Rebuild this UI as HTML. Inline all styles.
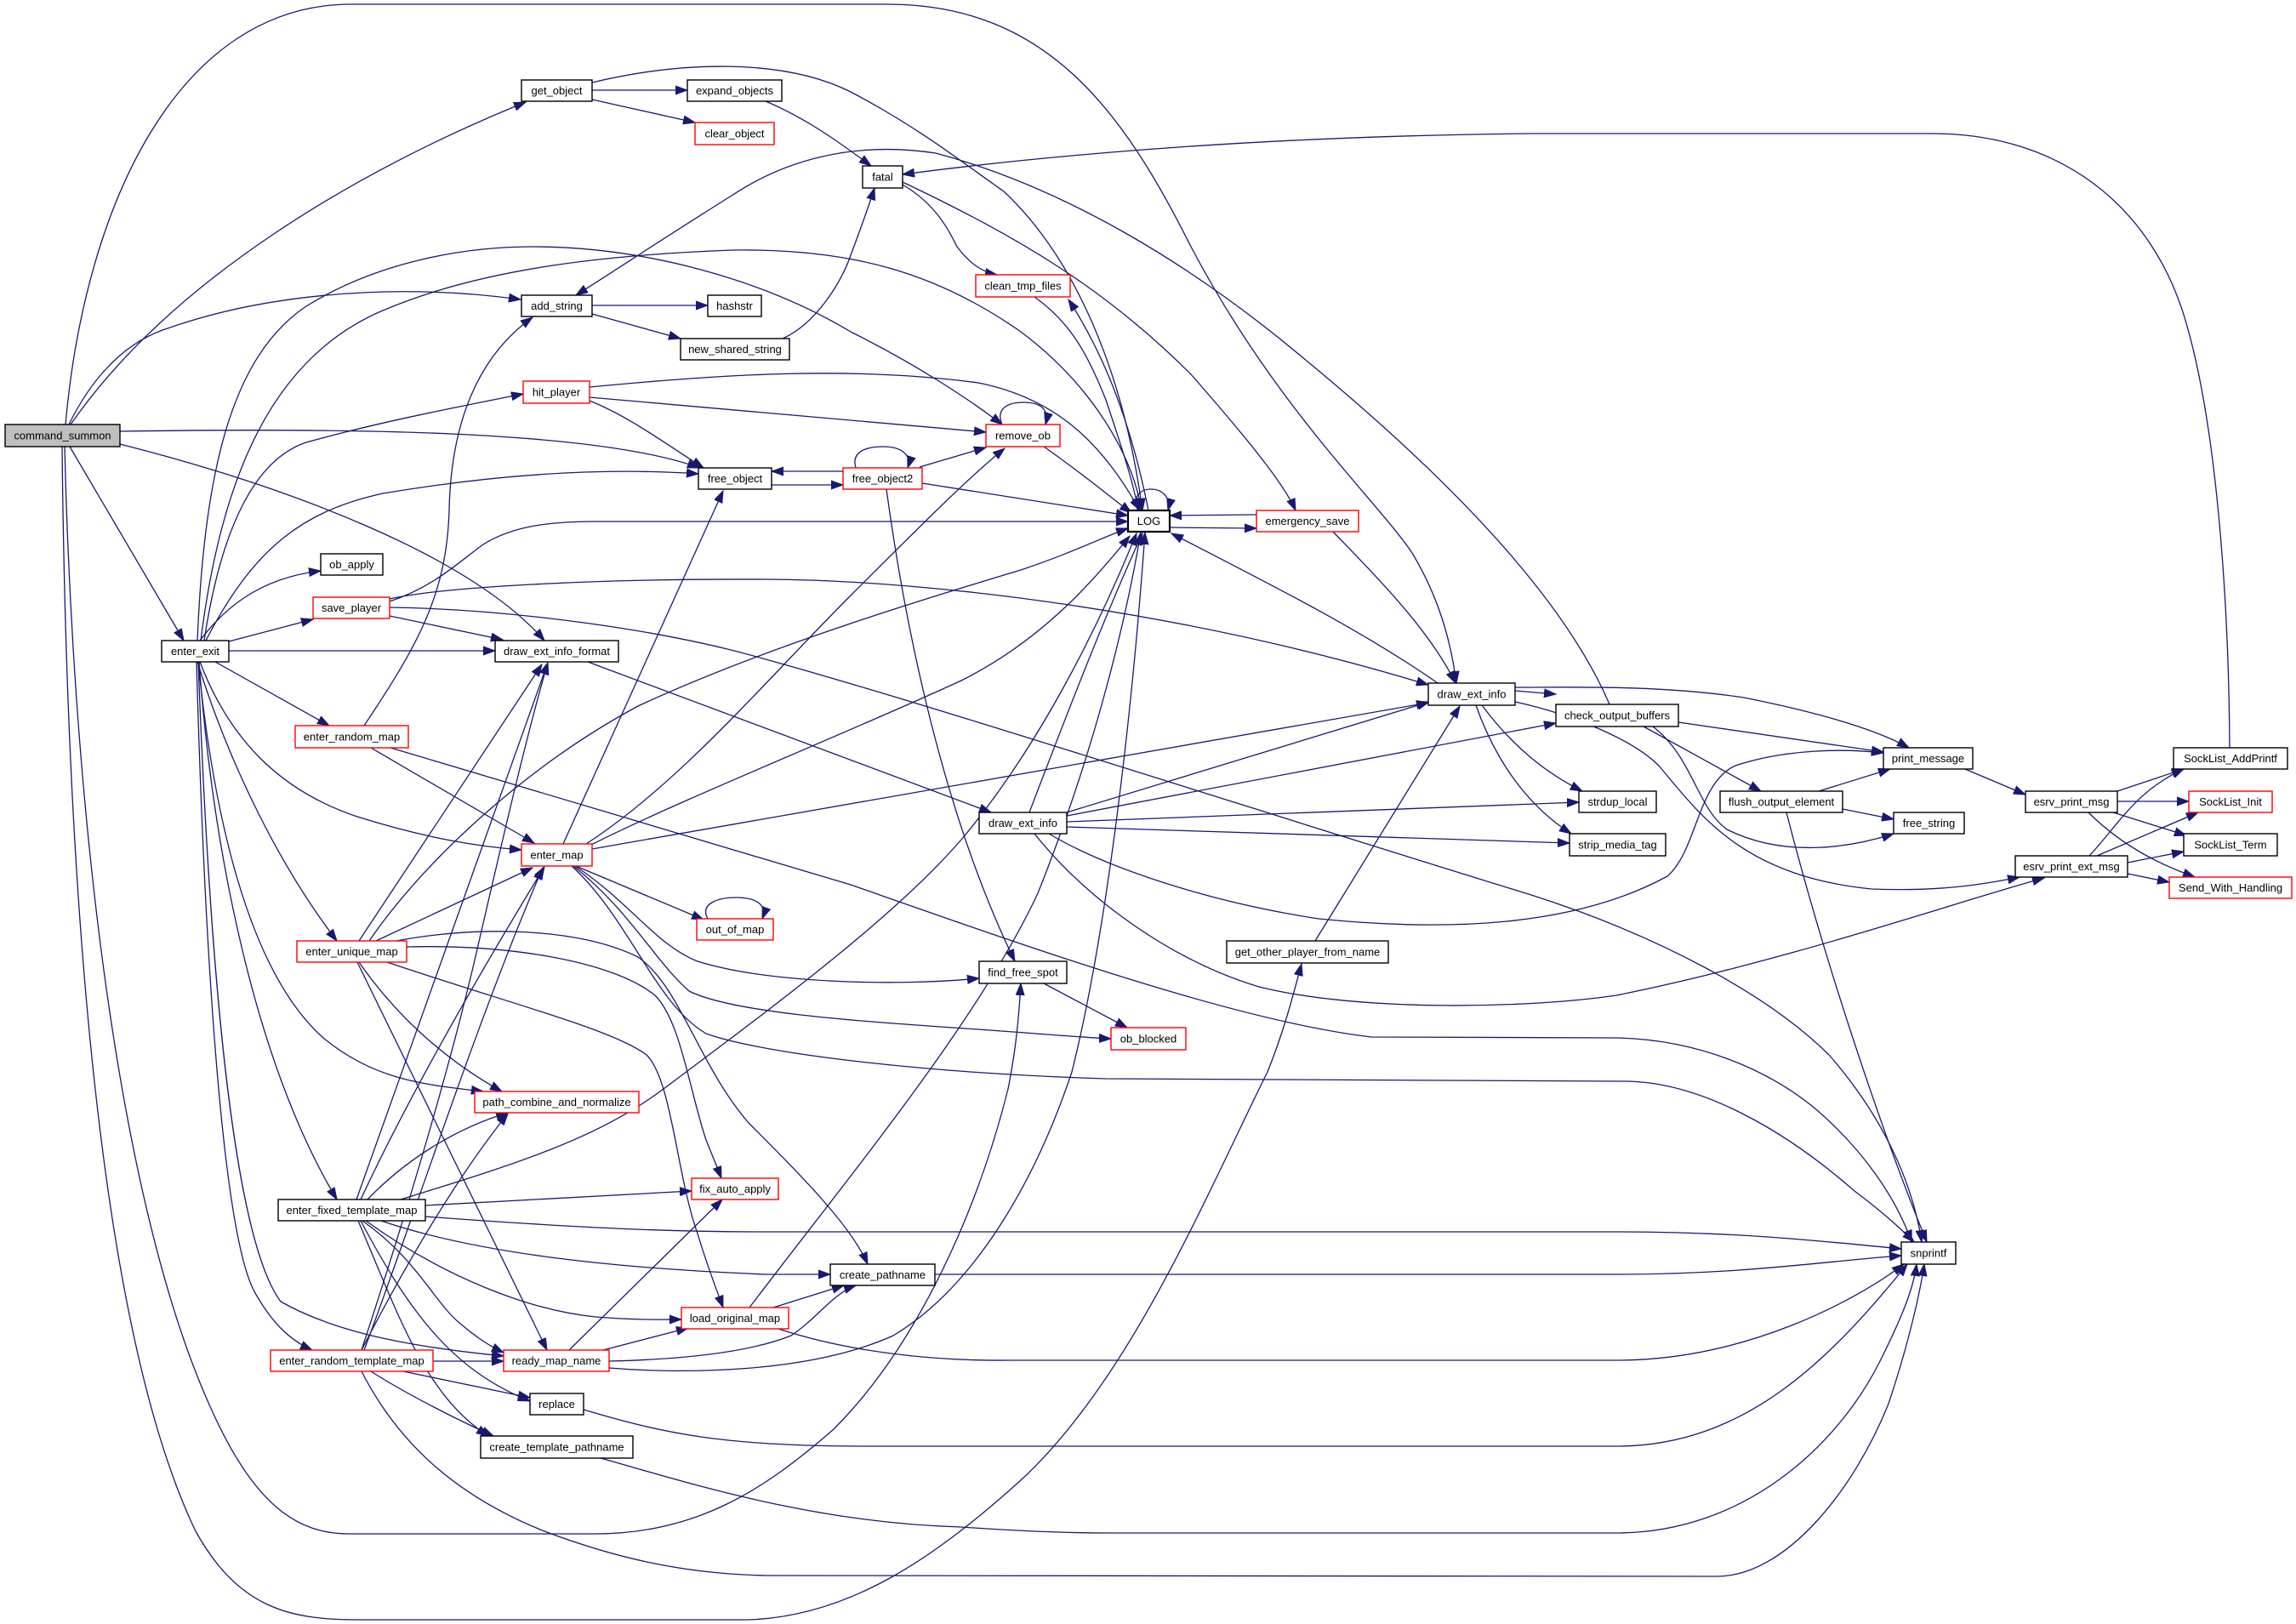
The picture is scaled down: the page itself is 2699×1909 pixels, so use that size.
<!DOCTYPE html>
<html><head><meta charset="utf-8"><style>
html,body{margin:0;padding:0;background:#fff;}
svg{display:block;}
.e{fill:none;stroke:#191970;stroke-width:1.3;marker-end:url(#a);}
.n{fill:#fff;stroke:#000;stroke-width:1.4;}
.r{fill:#fff;stroke:#ff0000;stroke-width:1.4;}
text{font-family:"Liberation Sans",Arial,sans-serif;font-size:13px;fill:#000;text-anchor:middle;}
</style></head><body>
<svg width="2699" height="1909" viewBox="0 0 2699 1909" xmlns="http://www.w3.org/2000/svg">
<defs><marker id="a" markerWidth="15" markerHeight="11" refX="14" refY="5.5" orient="auto" markerUnits="userSpaceOnUse"><path d="M0,0.5 L14,5.5 L0,10.5 z" fill="#191970" stroke="#191970" stroke-width="1"/></marker></defs>

<!-- edges from command_summon -->
<path class="e" d="M83,499 C 200,330 420,200 618,120"/>
<path class="e" d="M77,499 C 100,240 210,5 413,5 L1043,5 C 1230,5 1320,130 1400,290 C 1500,480 1620,590 1660,650 C 1690,700 1705,750 1712,803"/>
<path class="e" d="M81,499 C 110,440 150,400 200,385 C 300,350 450,330 612,352"/>
<path class="e" d="M141,507 C 400,503 700,505 822,550"/>
<path class="e" d="M141,522 C 330,570 550,650 640,753"/>
<path class="e" d="M82,525 L216,753"/>
<path class="e" d="M76,525 C 85,900 130,1400 250,1660 C 300,1770 350,1803 410,1803 L700,1803 C 820,1803 900,1750 980,1680 C 1080,1580 1150,1420 1185,1280 C 1195,1230 1198,1190 1200,1156"/>
<path class="e" d="M73,525 C 78,1000 110,1550 230,1800 C 280,1890 340,1904 420,1904 L880,1904 C 1000,1900 1100,1830 1200,1740 C 1330,1620 1420,1400 1490,1260 C 1510,1210 1520,1170 1530,1133"/>

<!-- enter_exit -->
<path class="e" d="M232,753 C 240,560 270,420 360,360 C 440,310 540,290 626,290 C 760,290 900,330 1000,390 C 1080,430 1140,470 1178,499"/>
<path class="e" d="M236,753 C 260,560 320,420 450,365 C 560,318 700,300 861,294 C 1000,292 1100,320 1200,390 C 1280,450 1330,530 1342,600"/>
<path class="e" d="M240,753 C 260,620 300,540 360,520 C 450,495 540,478 615,463"/>
<path class="e" d="M242,753 C 300,640 360,600 450,580 C 600,555 720,550 821,557"/>
<path class="e" d="M235,753 C 260,720 300,680 377,671"/>
<path class="e" d="M269,754 L368,728"/>
<path class="e" d="M269,765 L582,765"/>
<path class="e" d="M253,778 L387,853"/>
<path class="e" d="M235,778 C 270,870 330,930 420,960 C 500,985 560,995 613,999"/>
<path class="e" d="M232,778 C 270,900 330,1020 396,1106"/>
<path class="e" d="M233,778 C 250,950 290,1140 380,1220 C 440,1270 500,1275 568,1283"/>
<path class="e" d="M234,778 C 250,1000 300,1250 396,1410"/>
<path class="e" d="M231,778 C 240,1100 260,1450 300,1520 C 320,1555 340,1575 367,1587"/>
<path class="e" d="M233,778 C 245,1100 270,1450 330,1530 C 400,1570 500,1585 592,1594"/>

<!-- enter_random_map -->
<path class="e" d="M428,853 C 490,760 525,700 528,600 C 530,500 560,420 626,373"/>
<path class="e" d="M436,879 L628,991"/>
<path class="e" d="M459,879 L1000,1040 C 1200,1110 1450,1200 1612,1219 L1900,1220 C 2000,1222 2080,1260 2130,1300 C 2190,1350 2230,1410 2247,1460"/>

<!-- save_player -->
<path class="e" d="M458,707 C 510,690 540,660 568,640 C 600,620 640,613 700,613 L1326,613"/>
<path class="e" d="M458,724 L591,752"/>
<path class="e" d="M458,704 C 520,690 700,680 900,681 C 1100,682 1400,720 1679,805"/>
<path class="e" d="M458,714 C 600,716 780,740 900,775 C 1100,830 1500,960 1800,1052 C 1950,1100 2080,1170 2150,1240 C 2220,1320 2250,1400 2259,1460"/>

<!-- draw_ext_info_format -->
<path class="e" d="M691,778 L1165,955"/>

<!-- enter_map -->
<path class="e" d="M662,992 L850,577"/>
<path class="e" d="M689,992 C 800,920 900,800 1000,700 C 1080,620 1140,560 1181,527"/>
<path class="e" d="M695,993 C 800,940 1000,860 1130,800 C 1220,755 1280,690 1328,630"/>
<path class="e" d="M696,998 L1679,826"/>
<path class="e" d="M677,1018 L827,1081"/>
<path class="e" d="M832,1080 C 822,1062 845,1055 865,1055 C 890,1055 902,1064 896,1080"/>
<path class="e" d="M676,1018 C 740,1060 770,1110 820,1130 C 900,1155 1050,1160 1151,1150"/>
<path class="e" d="M674,1018 C 740,1070 770,1130 810,1165 C 860,1190 1000,1200 1150,1210 C 1220,1215 1280,1220 1306,1221"/>
<path class="e" d="M672,1018 C 740,1080 770,1180 830,1215 C 900,1240 1100,1262 1300,1268 L1909,1271 C 2000,1271 2100,1330 2180,1400 C 2220,1430 2240,1450 2250,1460"/>

<!-- enter_unique_map -->
<path class="e" d="M422,1106 L637,781"/>
<path class="e" d="M434,1106 C 500,1010 620,900 750,830 C 900,760 1100,700 1200,670 C 1260,650 1300,630 1326,621"/>
<path class="e" d="M442,1106 L626,1020"/>
<path class="e" d="M466,1106 C 560,1088 680,1090 750,1125 C 800,1160 820,1250 880,1320 C 940,1380 1000,1440 1020,1486"/>
<path class="e" d="M478,1113 C 600,1110 720,1130 770,1170 C 800,1200 810,1280 830,1340 C 838,1360 843,1372 848,1385"/>
<path class="e" d="M455,1131 C 600,1180 720,1210 760,1240 C 790,1270 795,1380 820,1450 C 832,1490 842,1515 850,1537"/>
<path class="e" d="M422,1131 C 470,1200 530,1250 590,1283"/>
<path class="e" d="M420,1131 L643,1587"/>

<!-- enter_fixed_template_map -->
<path class="e" d="M419,1410 L644,779"/>
<path class="e" d="M424,1410 C 480,1290 560,1150 640,1019"/>
<path class="e" d="M432,1410 C 480,1360 540,1325 597,1308"/>
<path class="e" d="M471,1410 C 600,1370 700,1340 780,1280 C 900,1190 1050,1080 1130,987 C 1220,880 1290,740 1336,627"/>
<path class="e" d="M500,1417 L813,1400"/>
<path class="e" d="M500,1430 C 700,1445 800,1448 900,1448 L1900,1448 C 2050,1448 2150,1460 2235,1468"/>
<path class="e" d="M448,1435 C 550,1470 700,1490 900,1498 L976,1498"/>
<path class="e" d="M430,1435 C 520,1500 620,1540 700,1548 C 750,1552 780,1551 801,1551"/>
<path class="e" d="M426,1435 C 490,1480 510,1530 540,1555 C 560,1572 575,1582 592,1590"/>
<path class="e" d="M424,1435 C 480,1540 530,1610 623,1647"/>
<path class="e" d="M421,1435 C 470,1550 500,1640 574,1688"/>

<!-- enter_random_template_map -->
<path class="e" d="M425,1587 C 480,1420 530,1250 560,1120 C 590,990 620,860 644,779"/>
<path class="e" d="M428,1587 C 480,1450 560,1200 638,1020"/>
<path class="e" d="M425,1587 C 480,1480 540,1380 597,1309"/>
<path class="e" d="M509,1600 L592,1600"/>
<path class="e" d="M474,1612 L623,1643"/>
<path class="e" d="M436,1612 C 480,1640 540,1670 580,1688"/>
<path class="e" d="M425,1612 C 470,1700 540,1760 640,1800 C 720,1830 800,1850 900,1852 L2018,1853 C 2100,1853 2180,1750 2220,1650 C 2250,1560 2260,1500 2262,1486"/>

<!-- ready_map_name -->
<path class="e" d="M669,1587 L849,1410"/>
<path class="e" d="M709,1587 L809,1561"/>
<path class="e" d="M716,1600 C 800,1598 880,1590 930,1570 C 960,1550 980,1520 1006,1511"/>
<path class="e" d="M716,1608 C 800,1615 950,1615 1050,1570 C 1150,1510 1220,1380 1260,1260 C 1300,1100 1330,850 1346,626"/>

<!-- load_original_map -->
<path class="e" d="M881,1537 C 1000,1380 1150,1200 1220,1050 C 1280,900 1320,750 1341,626"/>
<path class="e" d="M909,1537 L992,1511"/>
<path class="e" d="M915,1562 C 1000,1590 1100,1600 1187,1599 L1900,1599 C 2050,1599 2180,1530 2238,1486"/>

<!-- replace, create_template_pathname, create_pathname -->
<path class="e" d="M686,1657 C 780,1685 850,1700 1015,1700 L1900,1700 C 2050,1700 2150,1600 2242,1486"/>
<path class="e" d="M706,1714 C 800,1740 950,1790 1130,1795 C 1200,1800 1250,1802 1302,1802 L1900,1802 C 2050,1802 2160,1700 2210,1600 C 2240,1540 2250,1510 2253,1486"/>
<path class="e" d="M1099,1498 L1900,1498 C 2050,1498 2150,1482 2235,1476"/>

<!-- find_free_spot -->
<path class="e" d="M1227,1156 L1325,1208"/>

<!-- get_object etc -->
<path class="e" d="M696,106 L808,106"/>
<path class="e" d="M696,117 L817,144"/>
<path class="e" d="M696,97 C 800,72 920,68 1000,108 C 1080,150 1130,190 1180,225 C 1260,300 1320,430 1343,600"/>
<path class="e" d="M900,119 C 950,140 990,170 1024,195"/>
<path class="e" d="M696,359 L832,359"/>
<path class="e" d="M696,369 L800,398"/>
<path class="e" d="M920,398 C 960,380 990,330 1000,300 C 1015,260 1022,240 1028,221"/>
<path class="e" d="M1061,217 C 1100,240 1115,270 1125,290 C 1140,310 1155,320 1172,323"/>
<path class="e" d="M1061,214 C 1200,280 1300,340 1400,440 C 1470,520 1510,570 1523,600"/>
<path class="e" d="M2621,879 C 2620,700 2605,500 2570,380 C 2530,240 2420,157 2271,157 L1800,157 C 1500,160 1250,180 1061,205"/>
<path class="e" d="M1216,349 C 1260,380 1280,420 1300,470 C 1320,530 1333,570 1338,600"/>
<path class="e" d="M1350,600 C 1330,500 1300,420 1256,352"/>

<!-- hit_player -->
<path class="e" d="M693,455 C 850,440 1000,430 1150,450 C 1250,470 1300,530 1340,600"/>
<path class="e" d="M693,467 L1159,508"/>
<path class="e" d="M693,471 C 740,490 780,520 827,550"/>

<!-- remove_ob / free_object / LOG -->
<path class="e" d="M1178,499 C 1170,480 1185,473 1203,473 C 1222,473 1234,480 1229,499"/>
<path class="e" d="M1227,525 C 1270,555 1300,580 1330,603"/>
<path class="e" d="M907,570 L991,570"/>
<path class="e" d="M991,554 L907,554"/>
<path class="e" d="M1006,550 C 1000,530 1020,525 1038,525 C 1060,525 1072,535 1067,550"/>
<path class="e" d="M1081,549 L1159,526"/>
<path class="e" d="M1084,568 L1326,606"/>
<path class="e" d="M1042,575 C 1070,780 1120,980 1193,1130"/>
<path class="e" d="M1338,600 C 1330,585 1340,575 1353,575 C 1366,575 1377,585 1373,600"/>
<path class="e" d="M1375,620 L1477,621"/>
<path class="e" d="M1477,605 L1375,606"/>
<path class="e" d="M1567,625 C 1620,680 1680,740 1711,803"/>

<!-- draw_ext_info (right) -->
<path class="e" d="M1690,803 C 1600,740 1480,680 1377,627"/>
<path class="e" d="M1781,812 L1829,816"/>
<path class="e" d="M1781,808 C 1850,808 1950,805 2050,820 C 2150,840 2210,860 2244,879"/>
<path class="e" d="M1742,829 C 1780,880 1820,910 1860,930"/>
<path class="e" d="M1735,829 C 1760,900 1800,950 1847,980"/>
<path class="e" d="M1781,825 C 1850,840 1920,870 1950,900 C 2000,960 2050,1030 2200,1045 C 2280,1048 2330,1040 2374,1031"/>

<!-- check_output_buffers -->
<path class="e" d="M1892,828 C 1850,730 1750,600 1531,420 C 1400,310 1250,220 1100,180 C 1000,165 920,190 860,230 C 780,280 720,320 677,347"/>
<path class="e" d="M1973,849 L2214,884"/>
<path class="e" d="M1932,854 L2070,930"/>
<path class="e" d="M1943,854 C 1990,890 1995,950 2030,975 C 2100,1010 2180,995 2226,980"/>

<!-- flush_output_element -->
<path class="e" d="M2138,930 L2222,904"/>
<path class="e" d="M2166,951 L2226,963"/>
<path class="e" d="M2100,955 C 2150,1150 2220,1350 2265,1460"/>

<!-- print / socklist -->
<path class="e" d="M2310,904 L2381,934"/>
<path class="e" d="M2489,930 L2567,904"/>
<path class="e" d="M2489,942 L2573,942"/>
<path class="e" d="M2484,955 L2570,982"/>
<path class="e" d="M2455,955 C 2500,1000 2550,1020 2580,1031"/>
<path class="e" d="M2456,1006 C 2490,970 2510,930 2567,904"/>
<path class="e" d="M2465,1006 L2584,955"/>
<path class="e" d="M2501,1014 L2567,1001"/>
<path class="e" d="M2501,1027 L2550,1037"/>

<!-- get_other_player_from_name -->
<path class="e" d="M1546,1106 L1716,830"/>

<!-- draw_ext_info (mid) -->
<path class="e" d="M1210,955 C 1250,850 1300,720 1343,627"/>
<path class="e" d="M1254,955 L1680,825"/>
<path class="e" d="M1254,959 L1829,850"/>
<path class="e" d="M1254,966 L1856,943"/>
<path class="e" d="M1254,972 L1845,991"/>
<path class="e" d="M1233,980 C 1300,1020 1420,1060 1550,1080 C 1700,1095 1850,1090 1960,1030 C 1995,1000 1995,920 2040,900 C 2100,880 2170,880 2214,885"/>
<path class="e" d="M1216,980 C 1280,1060 1380,1130 1480,1160 C 1600,1190 1800,1185 1900,1170 C 2100,1130 2300,1060 2403,1032"/>

<!-- nodes -->
<rect x="6" y="499" width="135" height="26" fill="#bfbfbf" stroke="#000" stroke-width="1.4"/><text x="73.5" y="516.5">command_summon</text>
<rect class="n" x="613" y="94" width="83" height="25"/><text x="654.5" y="111">get_object</text>
<rect class="n" x="808" y="94" width="111" height="25"/><text x="863.5" y="111">expand_objects</text>
<rect class="r" x="817" y="144" width="93" height="26"/><text x="863.5" y="161.5">clear_object</text>
<rect class="n" x="1014" y="195" width="47" height="26"/><text x="1037.5" y="212.5">fatal</text>
<rect class="n" x="613" y="347" width="83" height="25"/><text x="654.5" y="364">add_string</text>
<rect class="n" x="832" y="347" width="63" height="25"/><text x="863.5" y="364">hashstr</text>
<rect class="n" x="800" y="398" width="128" height="25"/><text x="864" y="415">new_shared_string</text>
<rect class="r" x="1147" y="323" width="111" height="26"/><text x="1202.5" y="340.5">clean_tmp_files</text>
<rect class="r" x="615" y="448" width="78" height="26"/><text x="654" y="465.5">hit_player</text>
<rect class="r" x="1159" y="499" width="87" height="26"/><text x="1202.5" y="516.5">remove_ob</text>
<rect class="n" x="821" y="550" width="86" height="25"/><text x="864" y="567">free_object</text>
<rect class="r" x="991" y="550" width="93" height="25"/><text x="1037.5" y="567">free_object2</text>
<rect x="1326" y="600" width="49" height="25" fill="#fff" stroke="#000" stroke-width="2.2"/><text x="1350.5" y="617">LOG</text>
<rect class="r" x="1477" y="600" width="120" height="25"/><text x="1537" y="617">emergency_save</text>
<rect class="n" x="377" y="651" width="73" height="25"/><text x="413.5" y="668">ob_apply</text>
<rect class="r" x="368" y="702" width="90" height="25"/><text x="413" y="719">save_player</text>
<rect class="n" x="190" y="753" width="79" height="25"/><text x="229.5" y="770">enter_exit</text>
<rect class="n" x="582" y="753" width="145" height="25"/><text x="654.5" y="770">draw_ext_info_format</text>
<rect class="n" x="1679" y="803" width="102" height="26"/><text x="1730" y="820.5">draw_ext_info</text>
<rect class="n" x="1829" y="828" width="144" height="26"/><text x="1901" y="845.5">check_output_buffers</text>
<rect class="r" x="347" y="853" width="133" height="26"/><text x="413.5" y="870.5">enter_random_map</text>
<rect class="n" x="2214" y="879" width="105" height="25"/><text x="2266.5" y="896">print_message</text>
<rect class="n" x="2555" y="879" width="134" height="25"/><text x="2622" y="896">SockList_AddPrintf</text>
<rect class="n" x="1856" y="930" width="91" height="25"/><text x="1901.5" y="947">strdup_local</text>
<rect class="n" x="2022" y="930" width="144" height="25"/><text x="2094" y="947">flush_output_element</text>
<rect class="n" x="2381" y="930" width="108" height="25"/><text x="2435" y="947">esrv_print_msg</text>
<rect class="r" x="2573" y="930" width="98" height="25"/><text x="2622" y="947">SockList_Init</text>
<rect class="n" x="1151" y="955" width="103" height="25"/><text x="1202.5" y="972">draw_ext_info</text>
<rect class="n" x="2226" y="955" width="83" height="25"/><text x="2267.5" y="972">free_string</text>
<rect class="n" x="1845" y="980" width="113" height="26"/><text x="1901.5" y="997.5">strip_media_tag</text>
<rect class="n" x="2567" y="980" width="110" height="26"/><text x="2622" y="997.5">SockList_Term</text>
<rect class="r" x="613" y="992" width="83" height="26"/><text x="654.5" y="1009.5">enter_map</text>
<rect class="n" x="2369" y="1006" width="132" height="25"/><text x="2435" y="1023">esrv_print_ext_msg</text>
<rect class="r" x="2550" y="1031" width="144" height="25"/><text x="2622" y="1048">Send_With_Handling</text>
<rect class="r" x="819" y="1080" width="90" height="25"/><text x="864" y="1097">out_of_map</text>
<rect class="r" x="349" y="1106" width="129" height="25"/><text x="413.5" y="1123">enter_unique_map</text>
<rect class="n" x="1442" y="1106" width="190" height="26"/><text x="1537" y="1123.5">get_other_player_from_name</text>
<rect class="n" x="1151" y="1130" width="103" height="26"/><text x="1202.5" y="1147.5">find_free_spot</text>
<rect class="r" x="1306" y="1208" width="88" height="26"/><text x="1350" y="1225.5">ob_blocked</text>
<rect class="r" x="558" y="1283" width="193" height="25"/><text x="654.5" y="1300">path_combine_and_normalize</text>
<rect class="r" x="813" y="1385" width="102" height="25"/><text x="864" y="1402">fix_auto_apply</text>
<rect class="n" x="327" y="1410" width="173" height="25"/><text x="413.5" y="1427">enter_fixed_template_map</text>
<rect class="n" x="2235" y="1460" width="64" height="26"/><text x="2267" y="1477.5">snprintf</text>
<rect class="n" x="976" y="1486" width="123" height="25"/><text x="1037.5" y="1503">create_pathname</text>
<rect class="r" x="801" y="1537" width="126" height="25"/><text x="864" y="1554">load_original_map</text>
<rect class="r" x="318" y="1587" width="191" height="25"/><text x="413.5" y="1604">enter_random_template_map</text>
<rect class="r" x="592" y="1587" width="124" height="25"/><text x="654" y="1604">ready_map_name</text>
<rect class="n" x="623" y="1638" width="63" height="25"/><text x="654.5" y="1655">replace</text>
<rect class="n" x="565" y="1688" width="179" height="26"/><text x="654.5" y="1705.5">create_template_pathname</text>
</svg>
</body></html>
